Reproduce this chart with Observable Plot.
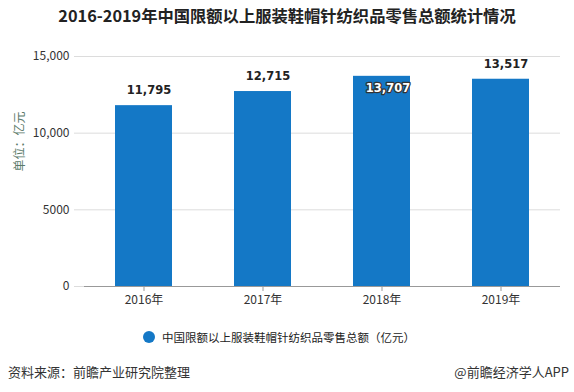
<!DOCTYPE html>
<html>
<head>
<meta charset="utf-8">
<script src="https://cdn.jsdelivr.net/npm/d3@7"></script>
<script src="https://cdn.jsdelivr.net/npm/@observablehq/plot@0.6"></script>
<style>
  body { margin: 0; background: #fff; font-family: "Noto Sans CJK SC", "DejaVu Sans", sans-serif; }
  #wrap { position: relative; width: 574px; height: 392px; overflow: hidden; background: #fff; }
  #title { position: absolute; top: 4px; left: 0; width: 574px; text-align: center; font-size: 16.3px; font-weight: bold; color: #222; line-height: 22px; }
  #chart { position: absolute; top: 40px; left: 0; }
  #legend { position: absolute; top: 328px; left: 143px; font-size: 11.5px; color: #222; line-height: 18px; display: flex; align-items: center; }
  #legend .dot { width: 12px; height: 12px; border-radius: 50%; background: #1478c6; margin-right: 7px; }
  #src { position: absolute; top: 362px; left: 8px; font-size: 13px; color: #333; line-height: 20px; }
  #app { position: absolute; top: 362px; right: 5px; font-size: 13px; color: #333; line-height: 20px; }
</style>
</head>
<body>
<div id="wrap">
  <div id="title">2016-2019年中国限额以上服装鞋帽针纺织品零售总额统计情况</div>
  <div id="chart"></div>
  <div id="legend"><span class="dot"></span><span id="legendText"></span></div>
  <div id="src">资料来源：前瞻产业研究院整理</div>
  <div id="app">@前瞻经济学人APP</div>
</div>
<script>
const years = ["2016年", "2017年", "2018年", "2019年"];
const values = [11795, 12715, 13707, 13517];
const valueLabels = ["11,795", "12,715", "13,707", "13,517"];
const yTicks = [0, 5000, 10000, 15000];
const yTickLabels = ["0", "5000", "10,000", "15,000"];
const seriesName = "中国限额以上服装鞋帽针纺织品零售总额（亿元）";
const yLabel = "单位：亿元";

document.getElementById("legendText").textContent = seriesName;

const data = years.map((y, i) => ({year: y, value: values[i], label: valueLabels[i]}));
const maxVal = d3.max(values);
const outside = data.filter(d => d.value !== maxVal);
const inside = data.filter(d => d.value === maxVal);

const chart = Plot.plot({
  width: 574,
  height: 275,
  marginTop: 16,
  marginBottom: 29,
  marginLeft: 84,
  marginRight: 14,
  style: {fontFamily: "'Noto Sans CJK SC', 'DejaVu Sans', sans-serif", color: "#333", background: "#fff"},
  x: {domain: years, paddingInner: 0.52, paddingOuter: 0.26, label: null},
  y: {domain: [0, 15000], label: null},
  marks: [
    Plot.ruleY(yTicks.filter(t => t !== 0), {stroke: "#dcdcdc", strokeWidth: 1, insetLeft: -10}),
    Plot.ruleY([0], {stroke: "#dcdcdc", strokeWidth: 1, insetLeft: -10, insetRight: 466}),
    Plot.barY(data, {x: "year", y: "value", fill: "#1478c6"}),
    Plot.ruleY([0], {stroke: "#999", strokeWidth: 1.2}),
    Plot.axisY({ticks: yTicks, tickSize: 0, tickPadding: 15, fontSize: 12, fill: "#333",
      tickFormat: d => yTickLabels[yTicks.indexOf(d)], label: null}),
    Plot.axisX({tickSize: 5, tickPadding: 4, fontSize: 12, fill: "#333", stroke: "#999", label: null}),
    Plot.text(outside, {x: "year", y: "value", text: "label", dy: -15, dx: 5,
      fontSize: 11.5, fontWeight: "bold", fill: "#222", fontFamily: "DejaVu Sans",
      style: {letterSpacing: "0.3px"}}),
    Plot.text(inside, {x: "year", y: "value", text: "label", dy: 12, dx: 6,
      fontSize: 11.5, fontWeight: "bold", fill: "#fff", stroke: "#333", strokeWidth: 2.5,
      fontFamily: "DejaVu Sans"}),
    Plot.text([yLabel], {frameAnchor: "left", dx: -64, rotate: -90, text: d => d,
      fontSize: 12, fill: "#5a7a6a"})
  ]
});
document.getElementById("chart").appendChild(chart);
</script>
</body>
</html>
